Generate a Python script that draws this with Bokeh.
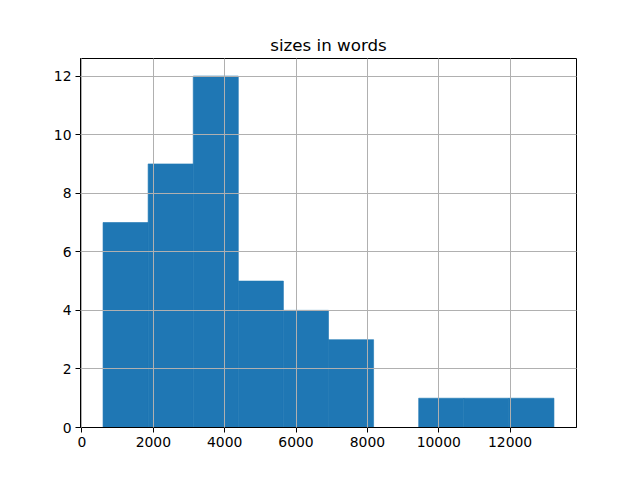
from bokeh.plotting import figure
from bokeh.models import Range1d, FixedTicker
from bokeh.embed import file_html
from bokeh.resources import INLINE

# histogram data
bin_edges = [590, 1854, 3118, 4382, 5646, 6910, 8174, 9438, 10702, 11966, 13230]
counts = [7, 9, 12, 5, 4, 3, 0, 1, 1, 1]
x_ticks = [0, 2000, 4000, 6000, 8000, 10000, 12000]
y_ticks = [0, 2, 4, 6, 8, 10, 12]
title = "sizes in words"

p = figure(width=624, height=464, output_backend="svg", toolbar_location=None,
           x_range=Range1d(-42, 13862), y_range=Range1d(0, 12.6), title=title)
p.min_border_left = 80
p.min_border_right = 48
p.min_border_top = 58
p.min_border_bottom = 37

p.quad(left=bin_edges[:-1], right=bin_edges[1:], bottom=0, top=counts,
       fill_color="#1f77b4", line_color="#1f77b4", line_width=0.6)

p.title.align = "center"
p.title.text_font = "DejaVu Sans"
p.title.text_font_size = "16.7px"
p.title.text_font_style = "normal"
p.title.text_color = "black"
p.title.standoff = 8

p.xaxis.ticker = FixedTicker(ticks=x_ticks)
p.yaxis.ticker = FixedTicker(ticks=y_ticks)
for ax in (p.xaxis[0], p.yaxis[0]):
    ax.major_label_text_font = "DejaVu Sans"
    ax.major_label_text_font_size = "13.9px"
    ax.major_label_text_color = "black"
    ax.major_tick_out = 5
    ax.major_tick_in = 0
    ax.minor_tick_out = 0
    ax.minor_tick_in = 0
    ax.axis_line_color = "black"
    ax.major_tick_line_color = "black"
    ax.major_label_standoff = 4

p.xgrid.grid_line_color = "#b0b0b0"
p.ygrid.grid_line_color = "#b0b0b0"
p.xgrid.grid_line_width = 1
p.ygrid.grid_line_width = 1
p.xgrid.level = "overlay"
p.ygrid.level = "overlay"

p.outline_line_color = "black"
p.outline_line_alpha = 1
p.background_fill_color = "white"
p.border_fill_color = "white"

open("out.html", "w").write(file_html(p, INLINE))
